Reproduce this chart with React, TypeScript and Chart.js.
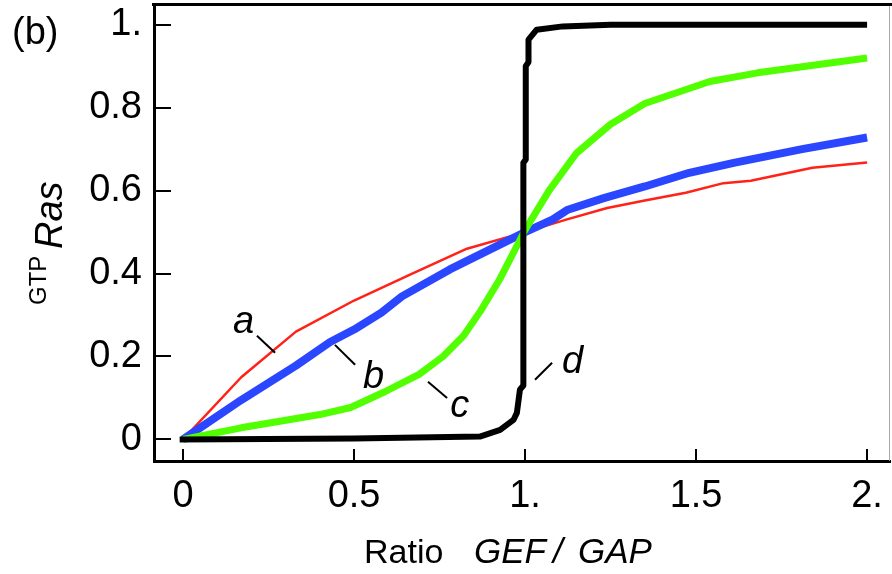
import React, { useEffect, useRef } from "react";
import { Chart, registerables } from "chart.js";
Chart.register(...registerables);

const FONT = "'Liberation Sans', Arial, Helvetica, sans-serif";

const xTickValues = [0, 0.5, 1, 1.5, 2];
const xTickLabels = ["0", "0.5", "1.", "1.5", "2."];
const yTickValues = [0, 0.2, 0.4, 0.6, 0.8, 1];
const yTickLabels = ["0", "0.2", "0.4", "0.6", "0.8", "1."];

// curve a (red)
const aX = [0, 0.17, 0.33, 0.5, 0.67, 0.83, 1.0, 1.12, 1.24, 1.35, 1.47, 1.58, 1.66, 1.84, 2.0];
const aY = [0, 0.15, 0.26, 0.335, 0.4, 0.46, 0.5, 0.53, 0.558, 0.576, 0.595, 0.618, 0.624, 0.655, 0.668];
// curve b (blue)
const bX = [0, 0.17, 0.33, 0.43, 0.5, 0.58, 0.64, 0.78, 1.0, 1.08, 1.125, 1.23, 1.35, 1.48, 1.61, 1.81, 2.0];
const bY = [0, 0.095, 0.178, 0.235, 0.265, 0.306, 0.345, 0.41, 0.5, 0.53, 0.554, 0.582, 0.61, 0.643, 0.667, 0.7, 0.728];
// curve c (green)
const cX = [0, 0.17, 0.4, 0.49, 0.59, 0.69, 0.76, 0.82, 0.87, 0.925, 1.0, 1.07, 1.15, 1.25, 1.35, 1.54, 1.68, 2.0];
const cY = [0, 0.028, 0.06, 0.077, 0.115, 0.157, 0.2, 0.25, 0.31, 0.385, 0.505, 0.6, 0.69, 0.76, 0.81, 0.863, 0.884, 0.92];
// curve d (black)
const dX = [-0.01, 0.5, 0.868, 0.927, 0.966, 0.976, 0.985, 0.995, 0.995, 1.002, 1.002, 1.01, 1.01, 1.034, 1.11, 1.25, 2.0];
const dY = [0, 0.002, 0.007, 0.023, 0.047, 0.064, 0.12, 0.13, 0.667, 0.675, 0.9, 0.91, 0.964, 0.988, 0.996, 1.0, 1.0];

// curve labels (data units)
const labelText = ["a", "b", "c", "d"];
const labelX = [0.146, 0.526, 0.781, 1.108];
const labelY = [0.257, 0.124, 0.054, 0.16];
const leadX1 = [0.216, 0.444, 0.716, 1.029];
const leadY1 = [0.25, 0.228, 0.139, 0.144];
const leadX2 = [0.269, 0.503, 0.772, 1.079];
const leadY2 = [0.209, 0.18, 0.1, 0.185];

const toPts = (xs: number[], ys: number[]) => xs.map((x, i) => ({ x, y: ys[i] }));

const decorPlugin = {
  id: "decor",
  beforeDatasetsDraw(chart: any) {
    const { ctx, chartArea, scales } = chart;
    const xs = scales.x, ys = scales.y;
    ctx.save();
    ctx.strokeStyle = "#000";
    ctx.lineWidth = 2;
    yTickValues.forEach((v) => {
      const py = Math.round(ys.getPixelForValue(v));
      ctx.beginPath();
      ctx.moveTo(chartArea.left, py);
      ctx.lineTo(chartArea.left + 17, py);
      ctx.stroke();
    });
    xTickValues.forEach((v) => {
      const px = Math.round(xs.getPixelForValue(v));
      ctx.beginPath();
      ctx.moveTo(px, chartArea.bottom);
      ctx.lineTo(px, chartArea.bottom - 12);
      ctx.stroke();
    });
    ctx.restore();
  },
  afterDraw(chart: any) {
    const { ctx, scales } = chart;
    const xs = scales.x, ys = scales.y;
    const left = xs.left;
    const right = xs.right;
    const top = ys.top;
    const bottom = ys.bottom;
    ctx.save();
    // top frame
    ctx.fillStyle = "#000";
    ctx.fillRect(left - 2, top - 1, (chart.width as number) - left + 2, 3);
    // right frame (thin grey)
    ctx.fillStyle = "#a8a8a8";
    ctx.fillRect(right - 1, top + 2, 1, bottom - top - 2);

    ctx.fillStyle = "#000";
    ctx.strokeStyle = "#000";
    ctx.lineWidth = 2;
    ctx.font = `italic 38px ${FONT}`;
    ctx.textAlign = "left";
    ctx.textBaseline = "alphabetic";
    labelText.forEach((t, i) => {
      ctx.fillText(t, xs.getPixelForValue(labelX[i]), ys.getPixelForValue(labelY[i]));
      ctx.beginPath();
      ctx.moveTo(xs.getPixelForValue(leadX1[i]), ys.getPixelForValue(leadY1[i]));
      ctx.lineTo(xs.getPixelForValue(leadX2[i]), ys.getPixelForValue(leadY2[i]));
      ctx.stroke();
    });

    // panel label
    ctx.font = `38px ${FONT}`;
    ctx.fillText("(b)", 12, 44);

    // x title
    ctx.font = `34px ${FONT}`;
    ctx.fillText("Ratio", 364, 563);
    ctx.font = `italic 35px ${FONT}`;
    ctx.fillText("GEF", 474, 563);
    ctx.fillText("/", 553, 563);
    ctx.fillText("GAP", 578, 563);

    // y title (rotated)
    ctx.save();
    ctx.translate(62, 305);
    ctx.rotate(-Math.PI / 2);
    ctx.font = `24px ${FONT}`;
    ctx.fillText("GTP", 0, -16);
    ctx.font = `italic 38px ${FONT}`;
    ctx.fillText("Ras", 56, 0);
    ctx.restore();

    ctx.restore();
  },
};

export default function App() {
  const ref = useRef<HTMLCanvasElement | null>(null);
  useEffect(() => {
    if (!ref.current) return;
    const common = { pointRadius: 0, fill: false, tension: 0, borderJoinStyle: "round" as const, showLine: true };
    const chart = new Chart(ref.current, {
      type: "scatter",
      data: {
        datasets: [
          { ...common, label: "a", data: toPts(aX, aY), borderColor: "#ff2218", borderWidth: 2.5, order: 4 },
          { ...common, label: "b", data: toPts(bX, bY), borderColor: "#2b46ff", borderWidth: 8, order: 3 },
          { ...common, label: "c", data: toPts(cX, cY), borderColor: "#52ff00", borderWidth: 7, order: 2 },
          { ...common, label: "d", data: toPts(dX, dY), borderColor: "#000000", borderWidth: 6, order: 1 },
        ],
      },
      options: {
        animation: false,
        responsive: false,
        events: [],
        layout: { padding: { top: 4, right: 2, left: 0, bottom: 0 } },
        plugins: { legend: { display: false }, tooltip: { enabled: false } },
        scales: {
          x: {
            type: "linear",
            min: -0.085,
            max: 2.067,
            grid: { display: false, drawTicks: false },
            border: { display: true, color: "#000", width: 3 },
            afterBuildTicks: (s: any) => { s.ticks = xTickValues.map((v) => ({ value: v })); },
            afterFit: (s: any) => { s.height = 113; s.paddingLeft = 0; s.paddingRight = 0; s.paddingTop = 0; s.paddingBottom = 0; },
            ticks: {
              autoSkip: false,
              maxRotation: 0,
              padding: 13,
              color: "#000",
              font: { family: FONT, size: 38 },
              callback: (_v: any, i: number) => xTickLabels[i],
            },
          },
          y: {
            type: "linear",
            min: -0.052,
            max: 1.05,
            grid: { display: false, drawTicks: false },
            border: { display: true, color: "#000", width: 3 },
            afterBuildTicks: (s: any) => { s.ticks = yTickValues.map((v) => ({ value: v })); },
            afterFit: (s: any) => { s.width = 154; s.paddingTop = 0; s.paddingBottom = 0; s.paddingLeft = 0; s.paddingRight = 0; },
            ticks: {
              autoSkip: false,
              padding: 12,
              color: "#000",
              font: { family: FONT, size: 38 },
              callback: (_v: any, i: number) => yTickLabels[i],
            },
          },
        },
      },
      plugins: [decorPlugin],
    });
    return () => chart.destroy();
  }, []);
  return (
    <div style={{ position: "fixed", left: 0, top: 0, width: 892, height: 574, background: "#fff" }}>
      <canvas ref={ref} width={892} height={574} style={{ display: "block" }} />
    </div>
  );
}
